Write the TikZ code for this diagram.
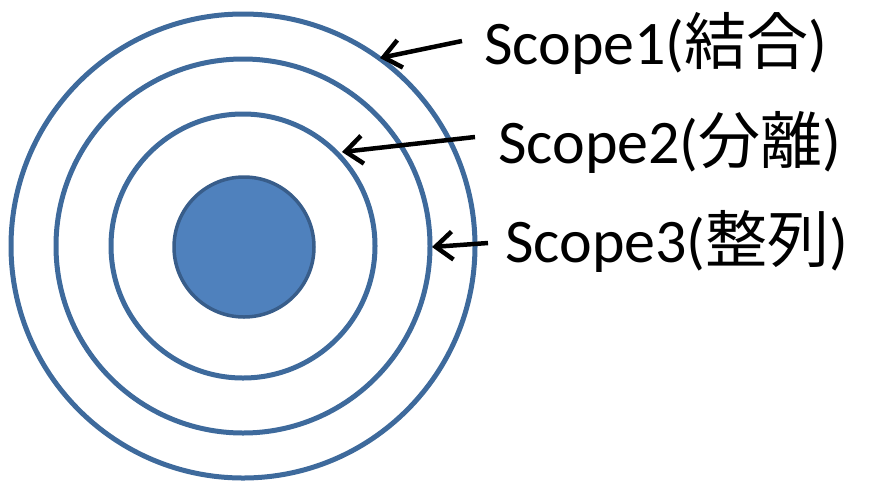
\documentclass[tikz,border=0pt]{standalone}
\usepackage{fontspec}
\setmainfont{Carlito}
\newfontfamily\jpfont{Noto Sans CJK JP}
\usetikzlibrary{arrows.meta}
\definecolor{ringblue}{HTML}{3E6A9C}
\definecolor{fillblue}{HTML}{4F81BD}
\definecolor{edgeblue}{HTML}{385D8A}
\tikzset{
  ring/.style={draw=ringblue, line width=5pt},
  core/.style={circle, draw=edgeblue, line width=3.5pt, fill=fillblue, minimum size=140pt, inner sep=0pt},
  lbl/.style={anchor=base west, inner sep=0pt, font=\fontsize{62}{70}\selectfont},
  pointer/.style={draw=black, line width=4.5pt, -{Straight Barb[length=17pt, width=28pt]}}
}
\begin{document}
\begin{tikzpicture}[x=1pt, y=-1pt]
\useasboundingbox (0,0) rectangle (869,480);
\coordinate (c) at (243,246);
\draw[ring] (c) circle (232);
\draw[ring] (c) circle (187);
\draw[ring] (c) circle (132);
\node[core] (core) at (244,247) {};
\node[lbl] (s1) at (484,64) {Scope1({\jpfont 結合})};
\node[lbl] (s2) at (498,163) {Scope2({\jpfont 分離})};
\node[lbl] (s3) at (505,262) {Scope3({\jpfont 整列})};
\coordinate (t1) at (380,58);
\coordinate (t2) at (342,152);
\coordinate (t3) at (432,247);
\coordinate (f1) at (462,41);
\coordinate (f2) at (475,137);
\coordinate (f3) at (488,243);
\draw[pointer] (f1) -- (t1);
\draw[pointer] (f2) -- (t2);
\draw[pointer] (f3) -- (t3);
\end{tikzpicture}
\end{document}
